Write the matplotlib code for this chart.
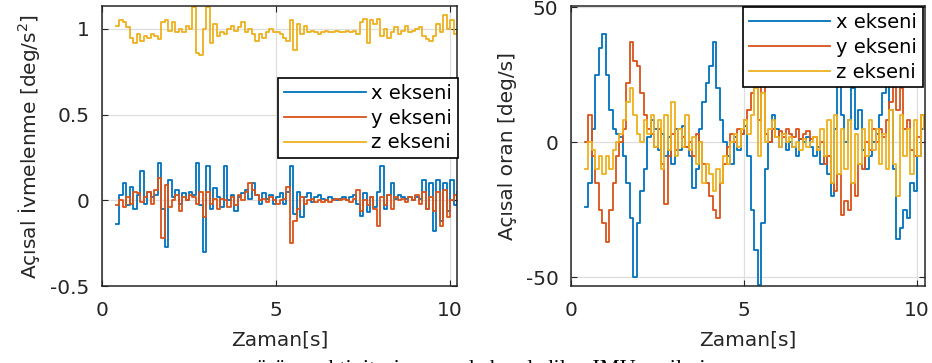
import numpy as np
import matplotlib
matplotlib.use("Agg")
from matplotlib import pyplot as plt

# accelerometer (left), sampled every 0.1 s from t = 0.4 s
acc_x = [-0.14, 0.03, 0.10, -0.03, 0.08, -0.05, 0.03, 0.17, -0.02, 0.05,
         0.02, 0.03, 0.22, -0.05, -0.27, 0.12, 0.02, 0.06, -0.02, 0.04,
         0.00, 0.05, 0.03, 0.22, -0.03, -0.30, 0.20, -0.05, 0.07, 0.02,
         -0.04, 0.20, 0.00, 0.03, -0.06, 0.02, 0.04, 0.06, 0.01, 0.10,
         0.03, -0.02, 0.04, 0.01, 0.03, -0.02, 0.02, 0.04, -0.02, 0.05,
         0.20, -0.08, 0.05, -0.10, 0.02, 0.04, -0.01, 0.02, 0.03, 0.01,
         0.00, 0.02, 0.01, 0.00, 0.01, 0.02, 0.00, 0.02, 0.03, -0.02,
         -0.09, 0.04, -0.07, 0.02, -0.04, 0.05, 0.20, -0.05, 0.03, 0.10,
         0.01, 0.03, 0.02, 0.01, 0.02, 0.00, 0.02, 0.01, 0.12, -0.05,
         0.10, -0.18, 0.12, -0.12, 0.10, -0.06, 0.12, -0.03, 0.05]
acc_y = [-0.03, 0.00, -0.04, 0.02, -0.02, 0.05, 0.04, -0.01, 0.02, 0.05,
         -0.02, 0.06, 0.13, -0.22, 0.09, -0.04, 0.00, 0.03, -0.06, 0.02,
         0.00, 0.03, 0.02, -0.02, 0.05, -0.10, 0.05, -0.02, 0.01, -0.05,
         0.01, 0.00, -0.04, 0.02, -0.03, 0.03, 0.00, 0.05, 0.10, 0.06,
         0.03, 0.00, 0.01, -0.01, 0.02, 0.00, -0.02, 0.00, 0.01, 0.08,
         -0.25, -0.12, -0.05, 0.02, -0.02, 0.00, 0.01, -0.01, 0.00, -0.01,
         0.00, -0.01, 0.00, 0.01, 0.00, 0.01, 0.00, -0.01, 0.01, 0.06,
         -0.06, 0.00, -0.03, 0.02, -0.05, -0.15, 0.02, -0.03, 0.03, -0.05,
         0.02, 0.00, 0.01, -0.01, 0.02, 0.00, 0.03, -0.02, 0.05, -0.05,
         0.02, -0.06, 0.05, -0.15, 0.06, -0.10, 0.00, 0.03, 0.01]
acc_z = [1.02, 1.05, 1.04, 1.01, 0.95, 0.92, 0.97, 0.93, 0.96, 0.95,
         0.97, 0.96, 0.94, 1.04, 1.05, 0.99, 1.04, 0.98, 1.00, 0.98,
         1.02, 1.00, 1.13, 0.86, 0.85, 1.00, 1.13, 0.92, 1.03, 0.96,
         0.98, 0.97, 1.00, 1.02, 0.99, 1.01, 1.04, 0.98, 1.00, 0.97,
         0.93, 0.97, 0.95, 0.98, 1.00, 0.98, 0.98, 0.97, 0.95, 0.93,
         1.05, 0.88, 1.03, 0.97, 1.02, 0.98, 0.99, 0.98, 0.97, 0.98,
         0.99, 0.98, 0.98, 0.99, 0.98, 0.98, 0.99, 0.98, 0.99, 0.97,
         1.04, 1.06, 0.92, 1.05, 1.03, 1.06, 0.96, 1.00, 0.95, 0.98,
         1.01, 0.97, 0.99, 1.02, 0.98, 0.99, 1.00, 1.01, 0.96, 0.94,
         0.93, 0.96, 1.03, 0.98, 1.08, 1.00, 1.05, 0.97, 0.98]

# gyroscope (right)
gyr_x = [-24, -15, 5, 25, 35, 40, 25, 12, 5, 3,
         2, -5, -15, -28, -50, -30, -18, -10, 2, 8,
         5, -3, 3, -5, 2, -8, 5, -3, 6, -2,
         -5, -17, -10, 5, 15, 22, 28, 37, 20, 8,
         0, -5, -8, 2, -3, 3, 6, -5, -25, -40,
         -53, -30, -10, 0, 10, 5, -2, 3, -3, 0,
         -2, -5, 1, 0, 2, -2, -5, -2, -8, -5,
         -12, -20, 5, 22, 10, 0, 8, 20, 5, 12,
         -3, -10, -5, 0, 3, 10, 18, 22, 12, -10,
         -36, -32, -25, -28, -15, -18, -5, 5, 10]
gyr_y = [0, 10, -5, -15, -25, -30, -37, -25, -15, -5,
         0, 5, 22, 37, 30, 28, 18, 10, 5, 3,
         -2, 5, -8, -23, -5, 3, -3, 5, 2, -2,
         0, -5, 3, 0, -8, -15, -20, -25, -28, -15,
         -8, -2, 3, 0, 5, 3, 8, 12, 18, 25,
         8, 25, 3, 0, 5, 2, 4, 2, 5, 3,
         2, 5, 1, 3, 4, 1, 2, -3, 0, -8,
         -5, -15, -18, -12, -27, -22, -25, -15, -20, -8,
         -10, 0, -3, 5, 0, 5, 2, 8, 15, 22,
         12, 20, 5, 8, -3, -5, 2, 10, 5]
gyr_z = [-10, 0, -3, -10, -5, -12, -5, -10, -3, 0,
         3, 8, 15, 20, 10, 3, 0, 8, 3, 10,
         -2, 8, -10, 10, -3, 15, -5, 5, -2, 10,
         -3, 2, -8, 0, -15, -8, -12, -18, -10, -15,
         -5, -8, 0, 3, -2, 5, 8, 3, 10, 20,
         -5, 18, 0, 5, 8, 2, -2, 3, 0, 2,
         -2, 0, -3, 1, -2, 0, 2, -3, 5, -5,
         8, -15, 10, -12, 5, -10, 8, -15, 3, -8,
         5, -5, 8, -3, 5, -8, 3, -10, 12, -8,
         -20, 10, -5, 5, -12, 8, -5, 10, 5]

labels = ['x ekseni', 'y ekseni', 'z ekseni']
colors = ['#0072BD', '#D95319', '#EDB120']
caption = 'yürüme aktivitesi sırasında kaydedilen IMU verileri'

plt.rcParams['axes.unicode_minus'] = False
txt = '#262626'

fig = plt.figure(figsize=(9.32, 3.63), dpi=100)
ax1 = fig.add_axes([102/932, 77/363, 355/932, 280/363])
ax2 = fig.add_axes([571/932, 77/363, 354/932, 280/363])

def t_of(v):
    return 0.4 + 0.1 * np.arange(len(v))

for ax, series in ((ax1, (acc_x, acc_y, acc_z)), (ax2, (gyr_x, gyr_y, gyr_z))):
    for s, c, lab in zip(series, colors, labels):
        ax.plot(t_of(s), s, color=c, lw=1.3, label=lab, drawstyle='steps-post')
    ax.grid(True, color='#dedede', lw=0.9)
    ax.set_axisbelow(True)
    ax.tick_params(direction='in', length=4, top=True, right=True,
                   labelsize=14.5, colors=txt, pad=9)
    ax.tick_params(axis='x', pad=11)
    ax.set_xticks([0, 5, 10])
    for sp in ax.spines.values():
        sp.set_color(txt)
        sp.set_linewidth(1.1)
    ax.set_xlabel('Zaman[s]', fontsize=14.5, color=txt, labelpad=7)
    leg = ax.legend(loc='upper right', fontsize=14, handlelength=4.2,
                    handletextpad=0.3, labelspacing=0.3, borderpad=0.3,
                    borderaxespad=0, fancybox=False, framealpha=1)
    leg.get_frame().set_edgecolor('black')
    leg.get_frame().set_linewidth(1.2)

ax1.set_xlim(0, 10.2)
ax1.set_ylim(-0.5, 1.134)
ax1.set_yticks([-0.5, 0, 0.5, 1])
ax1.set_yticklabels(['-0.5', '0', '0.5', '1'])
ax1.set_ylabel('Açısal İvmelenme [deg/s$^2$]', fontsize=14.5, color=txt, labelpad=6)
ax1.get_legend().set_bbox_to_anchor((1.003, 0.743), transform=ax1.transAxes)

ax2.set_xlim(0, 10.23)
ax2.set_ylim(-53.3, 50.4)
ax2.set_yticks([-50, 0, 50])
ax2.set_ylabel('Açısal oran [deg/s]', fontsize=14.5, color=txt, labelpad=6)
ax2.get_legend().set_bbox_to_anchor((0.994, 0.996), transform=ax2.transAxes)

# caption of the source figure, cut off by the lower edge as in the original
fig.text(0.51, -0.03, caption, ha='center', va='baseline',
         fontsize=16, family='Liberation Serif', color='black')

fig.savefig('out.png', dpi=100)
